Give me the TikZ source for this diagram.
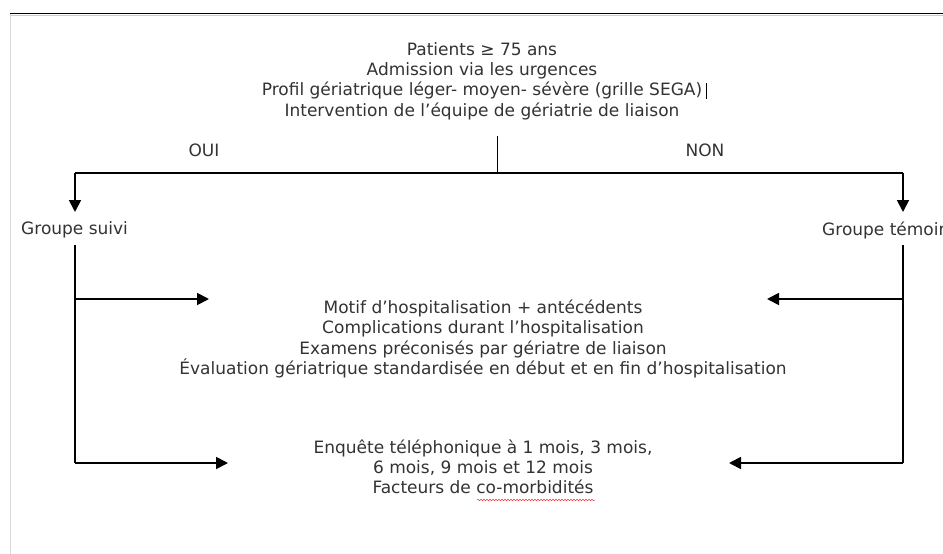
\documentclass[tikz,border=0pt]{standalone}
\usepackage{fontspec}
\setmainfont{DejaVu Sans}
\usetikzlibrary{arrows.meta,decorations.pathmorphing}
\begin{document}
\begin{tikzpicture}[x=1pt,y=-1pt,
  txt/.style={align=center,font=\fontsize{17}{20.3}\selectfont,text=black!80,inner sep=0pt},
  conn/.style={line width=1.8pt,black},
  arr/.style={conn,-{Triangle[length=12pt,width=12pt]}}]
\useasboundingbox (0,0) rectangle (943,554);
\fill[white] (0,0) rectangle (943,554);
% frame
\draw[black!15,line width=0.8pt] (10.5,14) -- (10.5,554);
\draw[black!20,line width=1pt] (10,15) -- (943,15);
\draw[black,line width=1.5pt] (10,13.3) -- (943,13.3);
% title
\node[txt] (top) at (482,81) {Patients ≥ 75 ans\\Admission via les urgences\\Profil gériatrique léger- moyen- sévère (grille SEGA)\\Intervention de l’équipe de gériatrie de liaison};
\draw[black,line width=1.6pt] (706.5,83) -- (706.5,99);
% labels
\node[txt] (oui) at (204,150.5) {OUI};
\node[txt] (non) at (705,150.5) {NON};
\node[txt,anchor=west] (suivi) at (21,230) {Groupe suivi};
\node[txt,anchor=west] (temoin) at (822,230) {Groupe témoin};
\node[txt] (mid) at (483,339) {Motif d’hospitalisation + antécédents\\Complications durant l’hospitalisation\\Examens préconisés par gériatre de liaison\\Évaluation gériatrique standardisée en début et en fin d’hospitalisation};
\node[txt] (bot) at (483,467) {Enquête téléphonique à 1 mois, 3 mois,\\6 mois, 9 mois et 12 mois\\Facteurs de co-morbidités};
% coordinates
\coordinate (c0) at (497.5,136);
\coordinate (c1) at (497.5,173);
\coordinate (l0) at (75,173);
\coordinate (r0) at (903,173);
\coordinate (lt) at (75,212);
\coordinate (rt) at (903,212);
\coordinate (l1) at (75,245);
\coordinate (l2) at (75,299);
\coordinate (l3) at (75,463);
\coordinate (r1) at (903,245);
\coordinate (r2) at (903,299);
\coordinate (r3) at (903,463);
\coordinate (ml) at (209,299);
\coordinate (mr) at (767,299);
\coordinate (bl) at (228,463);
\coordinate (br) at (729,463);
% connectors
\draw[conn] (c0) -- (c1);
\draw[conn] (l0) -- (r0);
\draw[arr] (l0) -- (lt);
\draw[arr] (r0) -- (rt);
\draw[conn] (l1) -- (l3);
\draw[conn] (r1) -- (r3);
\draw[arr] (l2) -- (ml);
\draw[arr] (r2) -- (mr);
\draw[arr] (l3) -- (bl);
\draw[arr] (r3) -- (br);
% spell-check underline
\draw[red!80,line width=0.5pt,decorate,decoration={snake,amplitude=0.8pt,segment length=3pt}] (477,500) -- (595,500);
\end{tikzpicture}
\end{document}
